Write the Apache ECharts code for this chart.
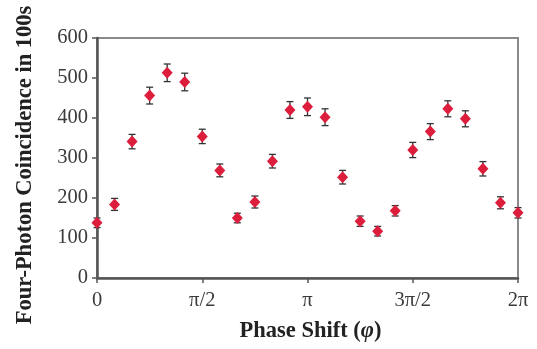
<!DOCTYPE html>
<html><head><meta charset="utf-8">
<script src="https://cdn.jsdelivr.net/npm/echarts@6/dist/echarts.min.js"></script>
<style>html,body{margin:0;padding:0;background:#fff}#c{width:537px;height:349px}</style>
</head><body><div id="c"></div>
<script>
// phase index k: phase = k * pi/12
const phaseIdx = [0,1,2,3,4,5,6,7,8,9,10,11,12,13,14,15,16,17,18,19,20,21,22,23,24];
const counts   = [138,184,341,456,513,490,354,269,150,190,292,420,428,402,252,142,117,168,320,366,423,398,273,188,163];
const errors   = [12,15,18,21,22,22,18,16,12,15,17,21,22,21,17,13,12,13,19,20,20,20,18,15,13];
const xTickLabels = {0:'0',6:'π/2',12:'π',18:'3π/2',24:'2π'};

const chart = echarts.init(document.getElementById('c'));
const pts = phaseIdx.map((k,i)=>[k,counts[i]]);
const errData = phaseIdx.map((k,i)=>[k,counts[i]-errors[i],counts[i]+errors[i]]);
const font = '"Liberation Serif","Times New Roman",serif';
chart.setOption({
  animation:false,
  grid:{left:97,right:19,top:38,bottom:71,show:true,borderColor:'#8a8a8a',borderWidth:2,backgroundColor:'transparent'},
  xAxis:{type:'value',min:0,max:24,interval:6,
    name:'Phase Shift ({it|φ})',nameLocation:'middle',nameGap:42,
    nameTextStyle:{fontFamily:font,fontWeight:'bold',fontSize:22.5,color:'#222',padding:[0,0,0,6],
      rich:{it:{fontFamily:font,fontStyle:'italic',fontWeight:'bold',fontSize:22.5,color:'#222'}}},
    axisLine:{lineStyle:{color:'#555',width:2.5}},
    axisTick:{show:true,length:5,inside:false,lineStyle:{color:'#555',width:1.5}},
    axisLabel:{fontFamily:font,fontSize:20.5,color:'#3a3a3a',margin:12,formatter:v=>xTickLabels[v]!==undefined?xTickLabels[v]:''},
    splitLine:{show:false}},
  yAxis:{type:'value',min:0,max:600,interval:100,
    name:'Four-Photon Coincidence in 100s',nameLocation:'middle',nameGap:60,
    nameTextStyle:{fontFamily:font,fontWeight:'bold',fontSize:22.5,color:'#222',padding:[0,14,0,0]},
    axisLine:{show:true,lineStyle:{color:'#555',width:2.5}},
    axisTick:{show:true,length:5,lineStyle:{color:'#555',width:1.5}},
    axisLabel:{fontFamily:font,fontSize:20.5,color:'#3a3a3a',margin:9},
    splitLine:{show:false}},
  series:[
    {type:'custom',data:errData,z:2,
     renderItem:(params,api)=>{
       const x=api.value(0),lo=api.coord([x,api.value(1)]),hi=api.coord([x,api.value(2)]);
       const w=3.5, st={stroke:'#333',lineWidth:1.3};
       return {type:'group',children:[
         {type:'line',shape:{x1:lo[0],y1:lo[1],x2:hi[0],y2:hi[1]},style:st},
         {type:'line',shape:{x1:lo[0]-w,y1:lo[1],x2:lo[0]+w,y2:lo[1]},style:st},
         {type:'line',shape:{x1:hi[0]-w,y1:hi[1],x2:hi[0]+w,y2:hi[1]},style:st}
       ]};
     }},
    {type:'scatter',data:pts,symbol:'diamond',symbolSize:[11,12],z:3,
     itemStyle:{color:'#dc1e3c',opacity:1}}
  ]
});
</script></body></html>
